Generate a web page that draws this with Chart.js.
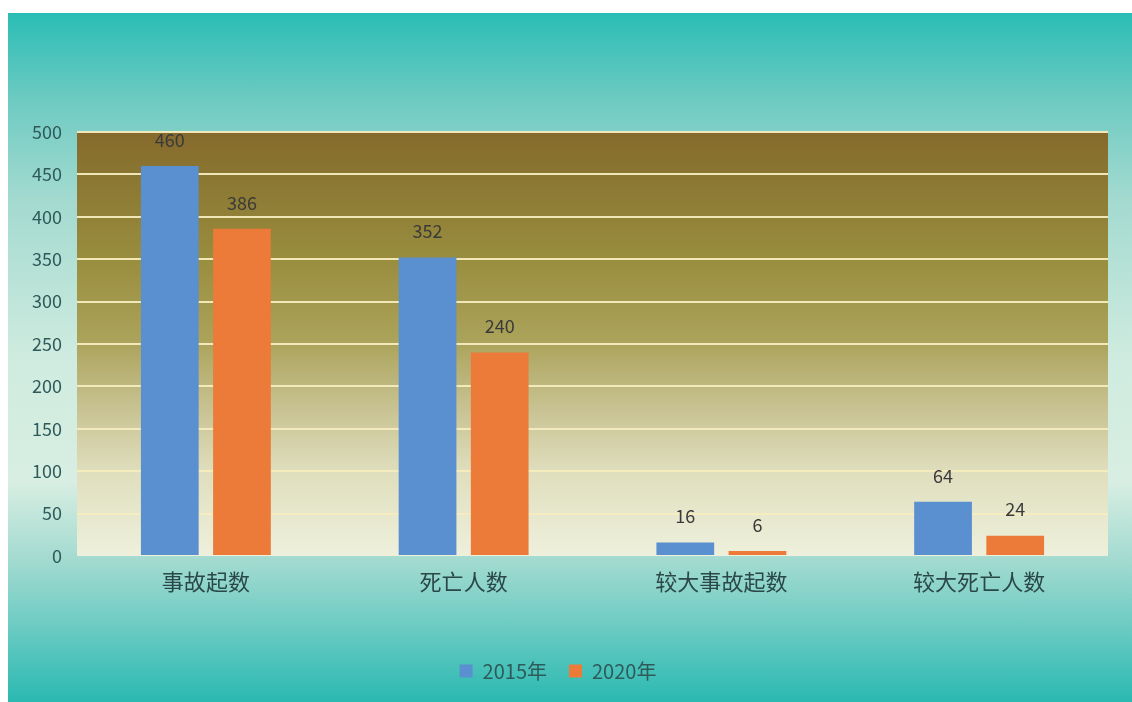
<!DOCTYPE html>
<html>
<head>
<meta charset="utf-8">
<script src="https://cdn.jsdelivr.net/npm/chart.js@4"></script>
<style>
  html, body { margin: 0; padding: 0; background: #fff; }
  #wrap {
    position: absolute; left: 8px; top: 13px; width: 1124px; height: 689px;
    background: linear-gradient(to bottom, #2abdb5 0%, #6fcbc2 13%, #a3dad0 27%, #cfebdf 50%, #d8eee2 68%, #a5dbd1 79%, #72cdc4 88%, #2ab9b1 100%);
  }
</style>
</head>
<body>
<div id="wrap"><canvas id="grafico" width="1124" height="689"></canvas></div>
<script>
// 数据
var categorias = ['事故起数', '死亡人数', '较大事故起数', '较大死亡人数'];
var serie2015 = [460, 352, 16, 64];
var serie2020 = [386, 240, 6, 24];
var etiquetas = ['2015年', '2020年'];

var fuente = "'Noto Sans CJK SC', 'Noto Sans', sans-serif";

// fondo degradado del área del gráfico
var fondoArea = {
    id: 'fondoArea',
    beforeDraw: function(chart) {
        var a = chart.chartArea, ctx = chart.ctx;
        var g = ctx.createLinearGradient(0, a.top, 0, a.bottom);
        g.addColorStop(0, '#866a2c');
        g.addColorStop(0.1, '#8a7632');
        g.addColorStop(0.3, '#998d3e');
        g.addColorStop(0.5, '#aca45c');
        g.addColorStop(0.65, '#c8c292');
        g.addColorStop(0.8, '#dfdebd');
        g.addColorStop(1, '#eef0dc');
        ctx.save();
        ctx.fillStyle = g;
        ctx.fillRect(a.left, a.top, a.right - a.left, a.bottom - a.top);
        ctx.restore();
    }
};

// valores encima de las barras
var valores = {
    id: 'valores',
    afterDatasetsDraw: function(chart) {
        var ctx = chart.ctx;
        ctx.save();
        ctx.font = '18px ' + fuente;
        ctx.fillStyle = '#3a3a3a';
        ctx.textAlign = 'center';
        ctx.textBaseline = 'middle';
        chart.data.datasets.forEach(function(ds, i) {
            chart.getDatasetMeta(i).data.forEach(function(bar, j) {
                ctx.fillText(ds.data[j], bar.x, bar.y - 26);
            });
        });
        ctx.restore();
    }
};

new Chart(document.getElementById('grafico').getContext('2d'), {
    type: 'bar',
    data: {
        labels: categorias,
        datasets: [{
            label: etiquetas[0],
            data: serie2015,
            backgroundColor: '#5a8fd0'
        }, {
            label: etiquetas[1],
            data: serie2020,
            backgroundColor: '#ec7a38'
        }]
    },
    options: {
        responsive: false,
        animation: false,
        categoryPercentage: 0.56,
        barPercentage: 0.8,
        layout: { padding: { top: 119, right: 24, bottom: 11, left: 0 } },
        scales: {
            y: {
                min: 0, max: 500,
                ticks: { stepSize: 50, padding: 15, color: '#2f5a5a', font: { size: 18, family: fuente } },
                grid: {
                    drawTicks: false,
                    lineWidth: 2,
                    color: function(c) { return c.tick.value === 0 ? 'rgba(0,0,0,0)' : 'rgba(246,236,190,0.95)'; }
                },
                border: { display: false },
                afterFit: function(s) { s.width = 69; }
            },
            x: {
                ticks: { padding: 4, color: '#2a4848', font: { size: 22, family: fuente } },
                grid: { display: false },
                border: { display: false },
                afterFit: function(s) { s.height = 83; }
            }
        },
        plugins: {
            legend: {
                position: 'bottom',
                labels: { boxWidth: 13, boxHeight: 13, padding: 22, color: '#2f5a5a', font: { size: 20, family: fuente } }
            },
            tooltip: { enabled: false }
        }
    },
    plugins: [fondoArea, valores]
});
</script>
</body>
</html>
